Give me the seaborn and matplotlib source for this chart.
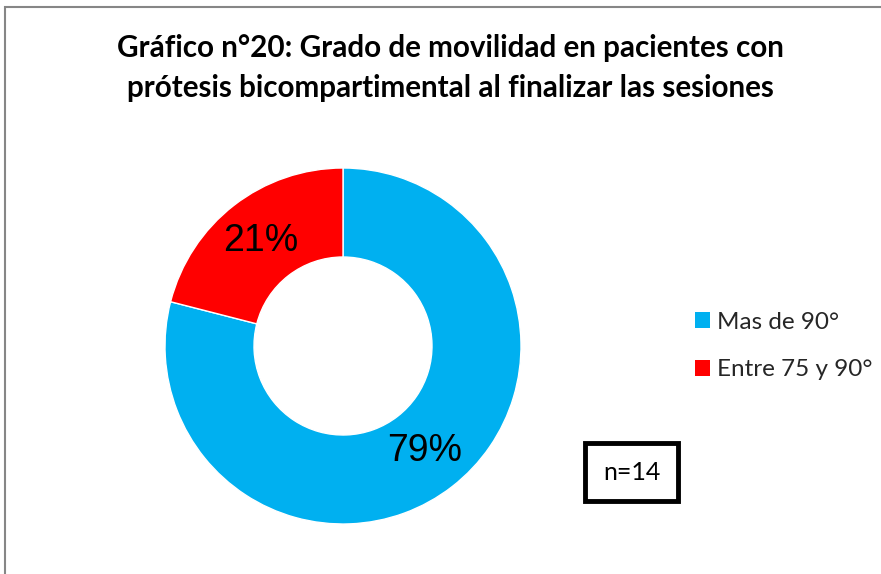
import matplotlib
matplotlib.use("Agg")
import matplotlib.pyplot as plt
import seaborn as sns
from matplotlib.patches import Rectangle, Patch

categories = ["Mas de 90°", "Entre 75 y 90°"]
values = [79, 21]
colors = ["#00B0F0", "#FF0000"]
title = "Gráfico n°20: Grado de movilidad en pacientes con\nprótesis bicompartimental al finalizar las sesiones"
note = "n=14"

sns.set_theme(style="white")
plt.rcParams['font.family'] = ['Lato', 'DejaVu Sans']

W, H = 881, 574
fig = plt.figure(figsize=(W / 100, H / 100), dpi=100)
fig.patch.set_facecolor("white")

# outer border (right and bottom edges lie outside the picture)
fig.patches.append(Rectangle((4.5 / W, -0.05), 1.05, 1.05 - 6.5 / H,
                             transform=fig.transFigure, fill=False,
                             edgecolor="#868686", linewidth=1.5))

fig.text(450 / W, 1 - 68 / H, title, ha="center", va="center",
         fontsize=21.3, fontweight="bold", linespacing=1.48, color="black")

cx, cy, r = 343, 346, 178
ax = fig.add_axes([(cx - r) / W, 1 - (cy + r) / H, 2 * r / W, 2 * r / H])
wedges, texts, autotexts = ax.pie(
    values, colors=sns.color_palette(colors), startangle=90, counterclock=False,
    radius=1, autopct=lambda p: f"{p:.0f}%", pctdistance=0.75,
    wedgeprops=dict(width=0.5, edgecolor="white", linewidth=1),
    textprops=dict(fontsize=27, family="Liberation Sans", color="black"))
ax.set_xlim(-1, 1)
ax.set_ylim(-1, 1)
ax.set_aspect("equal")
ax.axis("off")

handles = [Patch(facecolor=c, edgecolor="none") for c in colors]
fig.legend(handles, categories, loc="center left",
           bbox_to_anchor=(695 / W, 1 - 346 / H), frameon=False,
           borderpad=0, borderaxespad=0,
           fontsize=17.5, handlelength=0.62, handleheight=0.62,
           handletextpad=0.3, labelspacing=1.1)

bx0, by0, bx1, by1 = 585, 443, 678, 501
fig.patches.append(Rectangle((bx0 / W, 1 - by1 / H), (bx1 - bx0) / W, (by1 - by0) / H,
                             transform=fig.transFigure, fill=False,
                             edgecolor="black", linewidth=3.5))
fig.text((bx0 + bx1) / 2 / W, 1 - (by0 + by1) / 2 / H, note,
         ha="center", va="center", fontsize=18, color="black")

fig.savefig("out.png", dpi=100, facecolor="white")
